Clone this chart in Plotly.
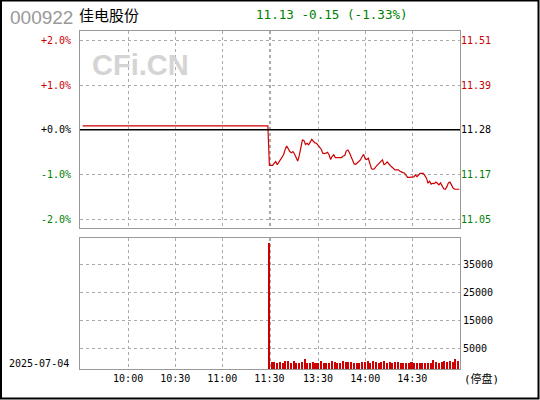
import numpy as np
import pandas as pd
import plotly.graph_objects as go

# 行情数据
CODE = "000922"
NAME = "佳电股份"
TRADE_DATE = "2025-07-04"
PREV_CLOSE = 11.28

# 上午（停牌，价格不变）
MORNING_TIMES = ["09:31", "11:29", "11:30"]
MORNING_PRICES = [11.29, 11.29, 11.19]

# 下午 13:00 ~ 15:00 每分钟价格
AFTERNOON_PRICES = [
    11.19, 11.19, 11.195, 11.20, 11.192, 11.198, 11.203, 11.209, 11.217, 11.23,
    11.239, 11.232, 11.225, 11.222, 11.225, 11.219, 11.21, 11.201, 11.215, 11.237,
    11.254, 11.253, 11.243, 11.246, 11.242, 11.249, 11.256, 11.251, 11.247, 11.246,
    11.24, 11.237, 11.231, 11.221, 11.22, 11.221, 11.223, 11.217, 11.205, 11.213,
    11.217, 11.21, 11.21, 11.21, 11.21, 11.21, 11.214, 11.215, 11.227, 11.229,
    11.222, 11.214, 11.203, 11.194, 11.193, 11.197, 11.20, 11.204, 11.212, 11.218,
    11.207, 11.205, 11.208, 11.193, 11.182, 11.18, 11.182, 11.188, 11.192, 11.198,
    11.201, 11.204, 11.192, 11.194, 11.199, 11.193, 11.19, 11.186, 11.183, 11.179,
    11.179, 11.179, 11.176, 11.173, 11.172, 11.171, 11.165, 11.16, 11.16, 11.16,
    11.16, 11.161, 11.166, 11.162, 11.166, 11.17, 11.17, 11.17, 11.165, 11.158,
    11.146, 11.15, 11.143, 11.145, 11.144, 11.148, 11.145, 11.141, 11.146, 11.138,
    11.131, 11.13, 11.136, 11.146, 11.148, 11.141, 11.133, 11.13, 11.13, 11.13,
    11.13,
]

# 成交量
SPIKE_TIME = "11:30"
SPIKE_VOLUME = 44680
AFTERNOON_VOLUMES = [
    2590, 2480, 2230, 2480, 2230, 2840, 2940, 2230, 2940, 2230,
    2230, 2590, 3650, 2230, 2230, 2590, 2230, 2230, 2940, 2230,
    2230, 2230, 2940, 2480, 2230, 2230, 2840, 2480, 2590, 2590,
    2230, 2230, 2230, 2380, 2590, 2940, 2230, 2940, 2480, 2230,
    2590, 2940, 2230, 2590, 2230, 2590, 2480, 2230, 2230, 2230,
    2230, 2590, 2230, 2230, 2230, 2230, 2230, 2230, 2230, 3190,
    2480, 2230, 2590, 2840, 2590, 2840, 2590, 3650, 2840,
]

PCT_TICKS = [2, 1, 0, -1, -2]
VOL_TICKS = [5000, 15000, 25000, 35000]
TIME_TICKS = ["10:00", "10:30", "11:00", "11:30", "13:00", "13:30", "14:00", "14:30"]
TIME_LABELS = ["10:00", "10:30", "11:00", "11:30", "", "13:30", "14:00", "14:30"]

RED = "#cc0000"
GREEN = "#008000"
MONO = "DejaVu Sans Mono, Noto Sans CJK SC"

# 交易时段（上午+下午）的分钟序号
am = pd.date_range("2025-07-04 09:30", "2025-07-04 11:30", freq="min").strftime("%H:%M")
pm = pd.date_range("2025-07-04 13:00", "2025-07-04 15:00", freq="min").strftime("%H:%M")
SESSION = list(am) + list(pm)
slot = {t: i for i, t in enumerate(SESSION)}

price_x = [slot[t] for t in MORNING_TIMES] + [slot[t] for t in pm]
price_y = MORNING_PRICES + AFTERNOON_PRICES
vol_x = np.linspace(slot["13:00"] + 0.4, slot["15:00"] - 0.8, len(AFTERNOON_VOLUMES))

# 画布像素 -> paper 坐标
PLOT_L, PLOT_R, PLOT_T, PLOT_B = 80, 460, 31, 369


def px_x(px):
    return (px - PLOT_L) / (PLOT_R - PLOT_L)


def px_y(py):
    return (PLOT_B - py) / (PLOT_B - PLOT_T)


def colored(text, v):
    c = RED if v > 0 else (GREEN if v < 0 else "black")
    return f'<span style="color:{c}">{text}</span>'


price_ticks = [PREV_CLOSE * (1 + p / 100) for p in PCT_TICKS]
pct_text = [colored(f"{p:+.1f}%", p) for p in PCT_TICKS]
price_text = [colored(f"{v:.2f}", p) for v, p in zip(price_ticks, PCT_TICKS)]
y_range = [PREV_CLOSE * (1 - 2.19 / 100), PREV_CLOSE * (1 + 2.21 / 100)]
VOL_MIN, VOL_MAX = -2300, 44250

fig = go.Figure()
fig.add_trace(go.Scatter(x=price_x, y=price_y, mode="lines",
                         line=dict(color=RED, width=1.2), xaxis="x", yaxis="y"))
fig.add_trace(go.Scatter(x=[price_x[0], price_x[-1]], y=[PREV_CLOSE, PREV_CLOSE], mode="lines",
                         line=dict(color="rgba(0,0,0,0)"), xaxis="x", yaxis="y2"))
fig.add_trace(go.Bar(x=[slot[SPIKE_TIME]], y=[SPIKE_VOLUME], base=VOL_MIN, width=0.8,
                     marker=dict(color=RED, line_width=0), xaxis="x2", yaxis="y3"))
fig.add_trace(go.Bar(x=vol_x, y=AFTERNOON_VOLUMES, base=VOL_MIN, width=1.3,
                     marker=dict(color=RED, line_width=0), xaxis="x2", yaxis="y3"))

# 昨收线
fig.add_shape(type="line", xref="x domain", yref="y", x0=0, x1=1, y0=PREV_CLOSE, y1=PREV_CLOSE,
              line=dict(color="black", width=1.5), layer="above")

grid = dict(showgrid=True, gridcolor="#aaaaaa", griddash="dot", gridwidth=1,
            showline=True, linecolor="#999999", linewidth=1, mirror=True, zeroline=False,
            automargin=False)
xcommon = dict(range=[-0.65, 241.4], tickvals=[slot[t] for t in TIME_TICKS] + [slot["13:00"] - 0.2],
               **grid)

fig.update_layout(
    width=540, height=400, autosize=False,
    margin=dict(l=PLOT_L, r=540 - PLOT_R, t=PLOT_T, b=400 - PLOT_B),
    paper_bgcolor="white", plot_bgcolor="white",
    showlegend=False, bargap=0,
    xaxis=dict(domain=[0, 1], anchor="y", showticklabels=False, ticks="", **xcommon),
    yaxis=dict(domain=[px_y(227.7), 1], range=y_range, tickvals=price_ticks, ticktext=pct_text,
               ticks="outside", ticklen=6, tickcolor="rgba(0,0,0,0)",
               tickfont=dict(family=MONO, size=10), **grid),
    yaxis2=dict(overlaying="y", side="right", range=y_range, tickvals=price_ticks, ticktext=price_text,
                showgrid=False, zeroline=False, ticks="", automargin=False,
                tickfont=dict(family=MONO, size=10)),
    xaxis2=dict(domain=[0, 1], anchor="y3", ticks="", ticktext=TIME_LABELS + [""],
                tickfont=dict(family=MONO, size=10, color="black"), **xcommon),
    yaxis3=dict(domain=[0, px_y(238)], range=[VOL_MIN, VOL_MAX], side="right", anchor="x2",
                tickvals=VOL_TICKS, ticktext=[str(v) for v in VOL_TICKS], ticks="",
                tickfont=dict(family=MONO, size=10, color="black"), **grid),
)

annos = [
    dict(x=px_x(8), y=px_y(17), text=CODE, xanchor="left",
         font=dict(family="Liberation Sans", size=19, color="#999999")),
    dict(x=px_x(77), y=px_y(15), text=NAME, xanchor="left",
         font=dict(family="Noto Sans CJK SC", size=15, color="black")),
    dict(x=px_x(254), y=px_y(15),
         text=f"{price_y[-1]:.2f} {price_y[-1] - PREV_CLOSE:+.2f} ({(price_y[-1] / PREV_CLOSE - 1) * 100:+.2f}%)",
         xanchor="left", font=dict(family=MONO, size=12.6, color=GREEN)),
    dict(x=px_x(90), y=px_y(64.5), text="<b>CFi.CN</b>", xanchor="left",
         font=dict(family="Liberation Sans", size=29, color="#d4d4d4")),
    dict(x=px_x(7), y=px_y(363), text=TRADE_DATE, xanchor="left",
         font=dict(family=MONO, size=10, color="black")),
    dict(x=px_x(462), y=px_y(379), text="(停盘)", xanchor="left",
         font=dict(family=MONO, size=11, color="black")),
]
for a in annos:
    fig.add_annotation(xref="paper", yref="paper", yanchor="middle", showarrow=False, **a)

# 外边框
fig.add_shape(type="rect", xref="paper", yref="paper", x0=px_x(1), x1=px_x(538.5),
              y0=px_y(398.5), y1=px_y(0.5), line=dict(color="black", width=2))

# 去掉页面默认的 body 边距，让图贴齐窗口左上角；不显示工具栏
fig.write_html("out.html", config={"displayModeBar": False},
               post_script="document.body.style.margin='0';")
